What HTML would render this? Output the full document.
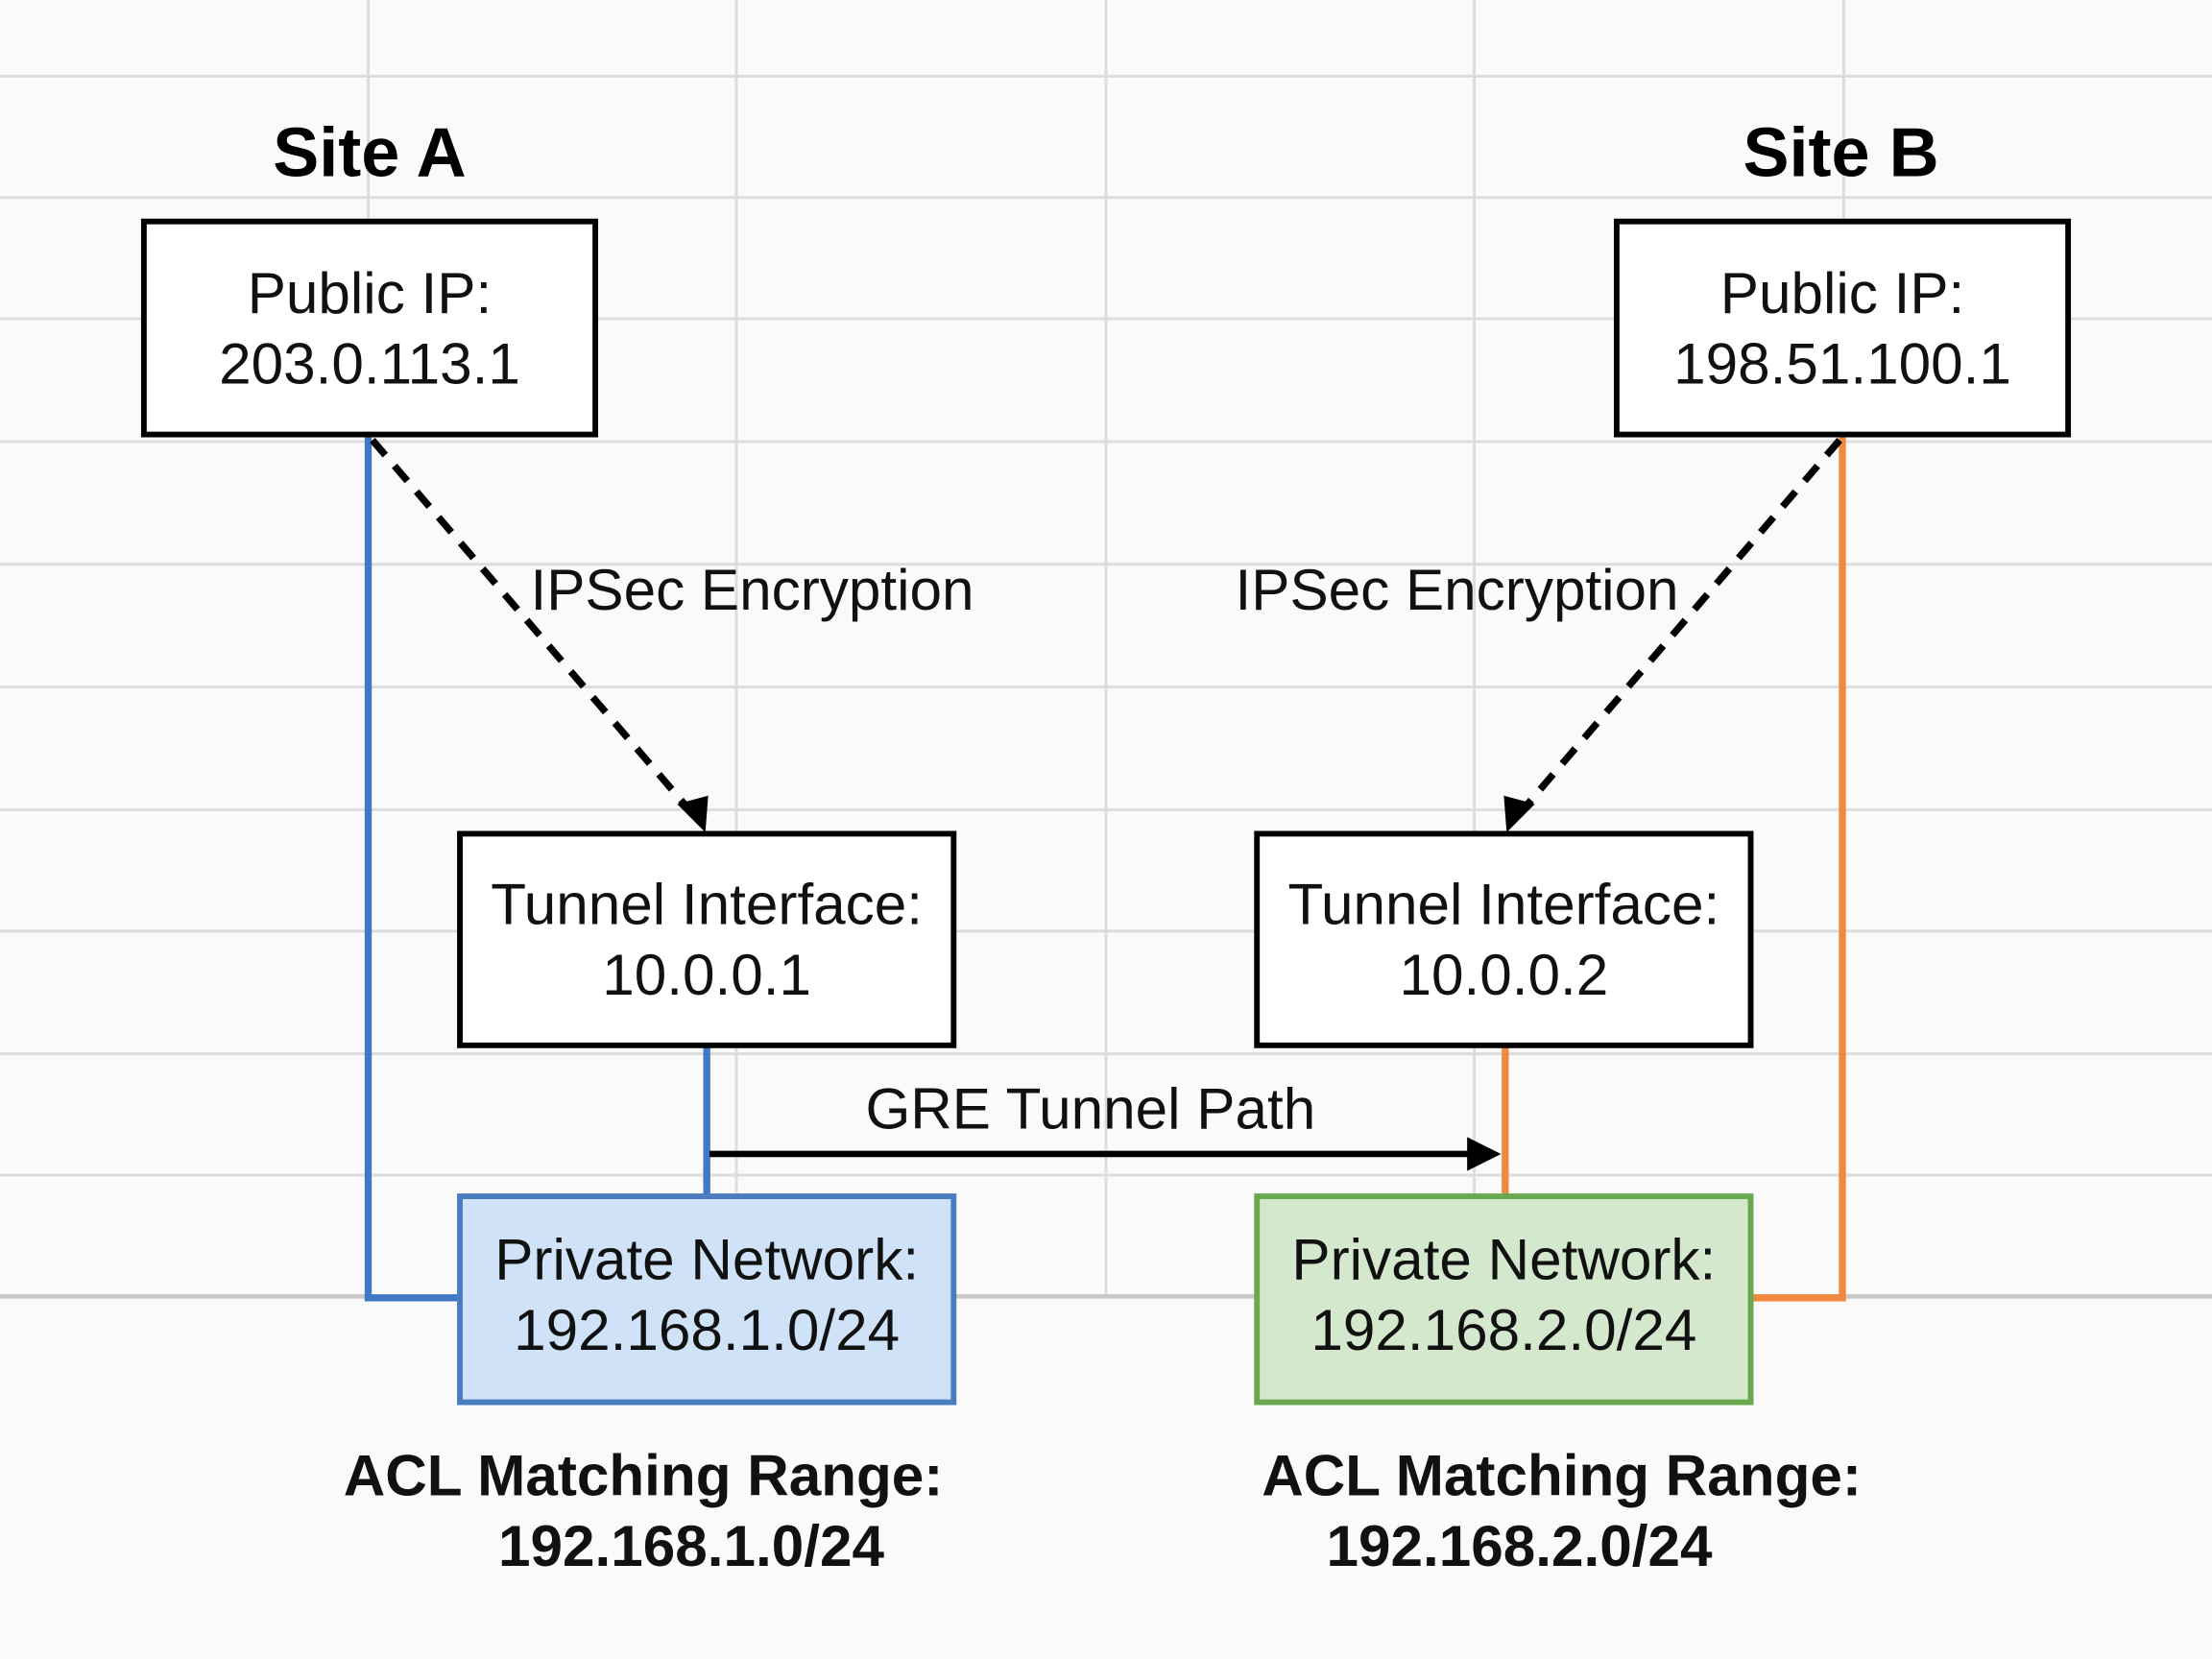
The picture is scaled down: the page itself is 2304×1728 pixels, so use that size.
<!DOCTYPE html>
<html><head><meta charset="utf-8"><style>html,body{margin:0;padding:0;background:#fafafa}svg{display:block}</style></head>
<body>
<svg width="2304" height="1728" viewBox="0 0 1568 1176" xmlns="http://www.w3.org/2000/svg" font-family="Liberation Sans, Arial, sans-serif">
<rect width="1568" height="1176" fill="#fafafa"/>
<g stroke="#dcdcdc" stroke-width="2">
<line x1="0" y1="54" x2="1568" y2="54"/><line x1="0" y1="140" x2="1568" y2="140"/><line x1="0" y1="226" x2="1568" y2="226"/><line x1="0" y1="313" x2="1568" y2="313"/><line x1="0" y1="400" x2="1568" y2="400"/><line x1="0" y1="487" x2="1568" y2="487"/><line x1="0" y1="574" x2="1568" y2="574"/><line x1="0" y1="660" x2="1568" y2="660"/><line x1="0" y1="747" x2="1568" y2="747"/><line x1="0" y1="833" x2="1568" y2="833"/>
<line x1="261" y1="0" x2="261" y2="920"/><line x1="522" y1="0" x2="522" y2="920"/><line x1="784" y1="0" x2="784" y2="920"/><line x1="1045" y1="0" x2="1045" y2="920"/><line x1="1307" y1="0" x2="1307" y2="920"/>
</g>
<line x1="0" y1="919" x2="1568" y2="919" stroke="#c8c8c8" stroke-width="3"/>
<text x="262" y="125" font-size="49" font-weight="bold" text-anchor="middle">Site A</text>
<text x="1305" y="125" font-size="49" font-weight="bold" text-anchor="middle">Site B</text>
<g fill="none" stroke-width="5">
<polyline points="261,308 261,920 326,920" stroke="#3f78c4"/>
<line x1="501" y1="741" x2="501" y2="848" stroke="#3f78c4"/>
<polyline points="1306,308 1306,920 1241,920" stroke="#f0883e"/>
<line x1="1067" y1="741" x2="1067" y2="848" stroke="#f0883e"/>
</g>
<g stroke="#000" stroke-width="5" stroke-dasharray="14 10" fill="none">
<line x1="264" y1="312" x2="492" y2="578"/>
<line x1="1304" y1="312" x2="1076" y2="578"/>
</g>
<path d="M500,590 L480,570 L502,564 z" fill="#000"/>
<path d="M1068,590 L1066,564 L1088,570 z" fill="#000"/>
<line x1="503" y1="818" x2="1044" y2="818" stroke="#000" stroke-width="4.5"/>
<path d="M1064,818 L1040,806 L1040,830 z" fill="#000"/>
<g fill="#fff" stroke="#000" stroke-width="4">
<rect x="102" y="157" width="320" height="151"/>
<rect x="1146" y="157" width="320" height="151"/>
<rect x="326" y="591" width="350" height="150"/>
<rect x="891" y="591" width="350" height="150"/>
</g>
<rect x="326" y="848" width="350" height="146" fill="#cfe2f8" stroke="#4a7cc0" stroke-width="4"/>
<rect x="891" y="848" width="350" height="146" fill="#d3e8cd" stroke="#6aa84f" stroke-width="4"/>
<g font-size="41" text-anchor="middle" fill="#111">
<text x="262" y="222">Public IP:</text><text x="262" y="272">203.0.113.1</text>
<text x="1306" y="222">Public IP:</text><text x="1306" y="272">198.51.100.1</text>
<text x="501" y="655">Tunnel Interface:</text><text x="501" y="705">10.0.0.1</text>
<text x="1066" y="655">Tunnel Interface:</text><text x="1066" y="705">10.0.0.2</text>
<text x="501" y="907">Private Network:</text><text x="501" y="957">192.168.1.0/24</text>
<text x="1066" y="907">Private Network:</text><text x="1066" y="957">192.168.2.0/24</text>
<text x="773" y="800">GRE Tunnel Path</text>
<text x="376" y="432" text-anchor="start">IPSec Encryption</text>
<text x="1190" y="432" text-anchor="end">IPSec Encryption</text>
</g>
<g font-size="41" font-weight="bold" text-anchor="middle" fill="#111">
<text x="456" y="1060">ACL Matching Range:</text><text x="490" y="1110">192.168.1.0/24</text>
<text x="1107" y="1060">ACL Matching Range:</text><text x="1077" y="1110">192.168.2.0/24</text>
</g>
</svg>
</body></html>
